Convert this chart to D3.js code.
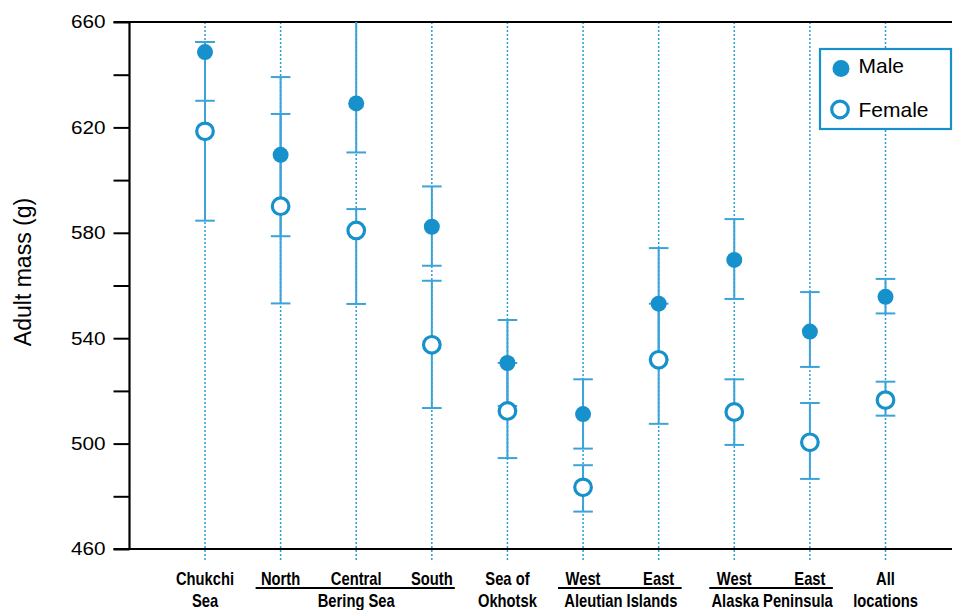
<!DOCTYPE html>
<html>
<head>
<meta charset="utf-8">
<script src="https://cdn.jsdelivr.net/npm/d3@7"></script>
<style>
  html, body { margin: 0; padding: 0; background: #fff; }
  svg { display: block; }
  .tick text { font-family: "Liberation Sans", Arial, Helvetica, sans-serif; font-size: 18.5px; fill: #000; }
  .xlab { font-family: "Liberation Sans", Arial, sans-serif; font-weight: bold; font-size: 18px; fill: #000; }
</style>
</head>
<body>
<div id="chart"></div>
<script>
// Sampling sites, left to right
const siteKeys = ["chukchi", "bering-n", "bering-c", "bering-s", "okhotsk",
                  "aleut-w", "aleut-e", "akpen-w", "akpen-e", "all"];
const siteLabels = [["Chukchi", "Sea"], ["North"], ["Central"], ["South"], ["Sea of", "Okhotsk"],
                    ["West"], ["East"], ["West"], ["East"], ["All", "locations"]];

// Regional groupings drawn under the sub-site labels
const groupNames = ["Bering Sea", "Aleutian Islands", "Alaska Peninsula"];
const groupFirst = ["bering-n", "aleut-w", "akpen-w"];
const groupLast  = ["bering-s", "aleut-e", "akpen-e"];

// Adult mass (g): means and error-bar limits
const maleMean    = [648.6, 609.6, 629.1, 582.3, 530.6, 511.2, 553.1, 569.7, 542.5, 555.7];
const maleLower   = [630.1, 578.7, 610.5, 567.5, 514.3, 498.1, 531.8, 554.9, 529.1, 549.4];
const maleUpper   = [652.4, 639.1, 668.0, 597.6, 546.9, 524.4, 574.2, 585.2, 557.5, 562.5];
const femaleMean  = [618.5, 590.1, 580.9, 537.5, 512.4, 483.4, 531.8, 512.0, 500.5, 516.5];
const femaleLower = [584.6, 553.2, 553.0, 513.5, 494.5, 474.2, 507.5, 499.5, 486.6, 510.6];
const femaleUpper = [652.4, 625.1, 589.0, 561.8, 530.6, 491.8, 553.1, 524.4, 515.4, 523.5];

// Axis ticks
const yTicks = [460, 480, 500, 520, 540, 560, 580, 600, 620, 640, 660];
const yLabelled = [460, 500, 540, 580, 620, 660];

const W = 953, H = 610;
const blue = "#1791cc";
const barBlue = "#3ba3d8";
const guideBlue = "#2b9dd6";
const narrow = 0.82;   // condensed lettering for the site labels

const svg = d3.select("#chart").append("svg").attr("width", W).attr("height", H);

const y = d3.scaleLinear().domain([460, 660]).range([549, 22]);
const x = d3.scalePoint().domain(siteKeys).range([205, 885.5]);
const axisX = 129.5;
const [yMin, yMax] = y.domain();

// dotted guide per site
svg.append("g").selectAll("line").data(siteKeys).join("line")
  .attr("x1", d => x(d)).attr("x2", d => x(d))
  .attr("y1", y(yMax)).attr("y2", y(yMin) + 13)
  .attr("stroke", guideBlue).attr("stroke-width", 1.5)
  .attr("stroke-dasharray", "2,2");

// y axis
const yAxis = d3.axisLeft(y).tickValues(yTicks).tickSize(16).tickPadding(8)
  .tickFormat(d => yLabelled.includes(d) ? d : "");
const gy = svg.append("g").attr("transform", `translate(${axisX},0)`).call(yAxis);
gy.select(".domain").remove();
gy.selectAll(".tick line").attr("stroke", "#000").attr("stroke-width", 2);
// slightly widened numerals, right edge kept at the tick padding
gy.selectAll(".tick text")
  .attr("x", null)
  .attr("transform", "translate(-24,0) scale(1.12,1)");

// frame: left spine, top and bottom rules
const frame = svg.append("g").attr("stroke", "#000").attr("stroke-width", 2.2);
frame.append("line").attr("x1", axisX).attr("x2", axisX).attr("y1", y(yMin)).attr("y2", y(yMax));
frame.append("line").attr("x1", axisX - 16).attr("x2", 952).attr("y1", y(yMax)).attr("y2", y(yMax));
frame.append("line").attr("x1", axisX - 16).attr("x2", 952).attr("y1", y(yMin)).attr("y2", y(yMin));

// y title
svg.append("text")
  .attr("transform", "translate(31,272) rotate(-90)")
  .attr("text-anchor", "middle")
  .style("font-family", "'Liberation Sans', Arial, sans-serif")
  .style("font-size", "23px")
  .text("Adult mass (g)");

// error bars
const clampV = v => Math.max(yMin, Math.min(yMax, v));
const capHalf = 9.8;
function drawBars(lower, upper) {
  const rows = siteKeys.map((k, i) => ({ k, lo: lower[i], hi: upper[i] }));
  const g = svg.append("g").attr("stroke", barBlue).attr("stroke-width", 2);
  g.selectAll("line.bar").data(rows).join("line").attr("class", "bar")
    .attr("x1", d => x(d.k)).attr("x2", d => x(d.k))
    .attr("y1", d => y(clampV(d.lo))).attr("y2", d => y(clampV(d.hi)));
  const caps = rows.flatMap(d => [{ k: d.k, v: d.lo }, { k: d.k, v: d.hi }])
    .filter(c => c.v >= yMin && c.v <= yMax);
  g.selectAll("line.cap").data(caps).join("line").attr("class", "cap")
    .attr("x1", d => x(d.k) - capHalf).attr("x2", d => x(d.k) + capHalf)
    .attr("y1", d => y(d.v)).attr("y2", d => y(d.v));
}
drawBars(femaleLower, femaleUpper);
drawBars(maleLower, maleUpper);

// female means: open circles
svg.append("g").selectAll("circle").data(siteKeys).join("circle")
  .attr("cx", d => x(d)).attr("cy", (d, i) => y(femaleMean[i]))
  .attr("r", 8.3).attr("fill", "#fff").attr("stroke", blue).attr("stroke-width", 3.2);

// male means: filled dots
svg.append("g").selectAll("circle").data(siteKeys).join("circle")
  .attr("cx", d => x(d)).attr("cy", (d, i) => y(maleMean[i]))
  .attr("r", 8).attr("fill", blue);

// x labels (condensed via horizontal scale)
const xl = svg.append("g");
function narrowText(cx, cy, t) {
  xl.append("text").attr("class", "xlab")
    .attr("transform", `translate(${cx},${cy}) scale(${narrow},1)`)
    .attr("text-anchor", "middle").text(t);
}
siteKeys.forEach((k, i) => {
  siteLabels[i].forEach((t, j) => narrowText(x(k), 585 + j * 22, t));
});
groupNames.forEach((name, i) => {
  const x0 = x(groupFirst[i]) - 25, x1 = x(groupLast[i]) + 23;
  xl.append("line").attr("x1", x0).attr("x2", x1).attr("y1", 588).attr("y2", 588)
    .attr("stroke", "#000").attr("stroke-width", 2);
  narrowText((x(groupFirst[i]) + x(groupLast[i])) / 2, 607, name);
});

// legend
const lg = svg.append("g").attr("transform", "translate(820,49)");
lg.append("rect").attr("width", 131).attr("height", 80)
  .attr("fill", "#fff").attr("stroke", blue).attr("stroke-width", 2.2);
lg.append("circle").attr("cx", 21).attr("cy", 19.5).attr("r", 8.5).attr("fill", blue);
lg.append("circle").attr("cx", 20).attr("cy", 60.5).attr("r", 8.3)
  .attr("fill", "#fff").attr("stroke", blue).attr("stroke-width", 3.2);
const legText = ["Male", "Female"];
lg.selectAll("text").data(legText).join("text")
  .attr("x", 38.5).attr("y", (d, i) => 24 + i * 43.5)
  .style("font-family", "'Liberation Sans', Arial, sans-serif")
  .style("font-size", "21px")
  .text(d => d);
</script>
</body>
</html>
